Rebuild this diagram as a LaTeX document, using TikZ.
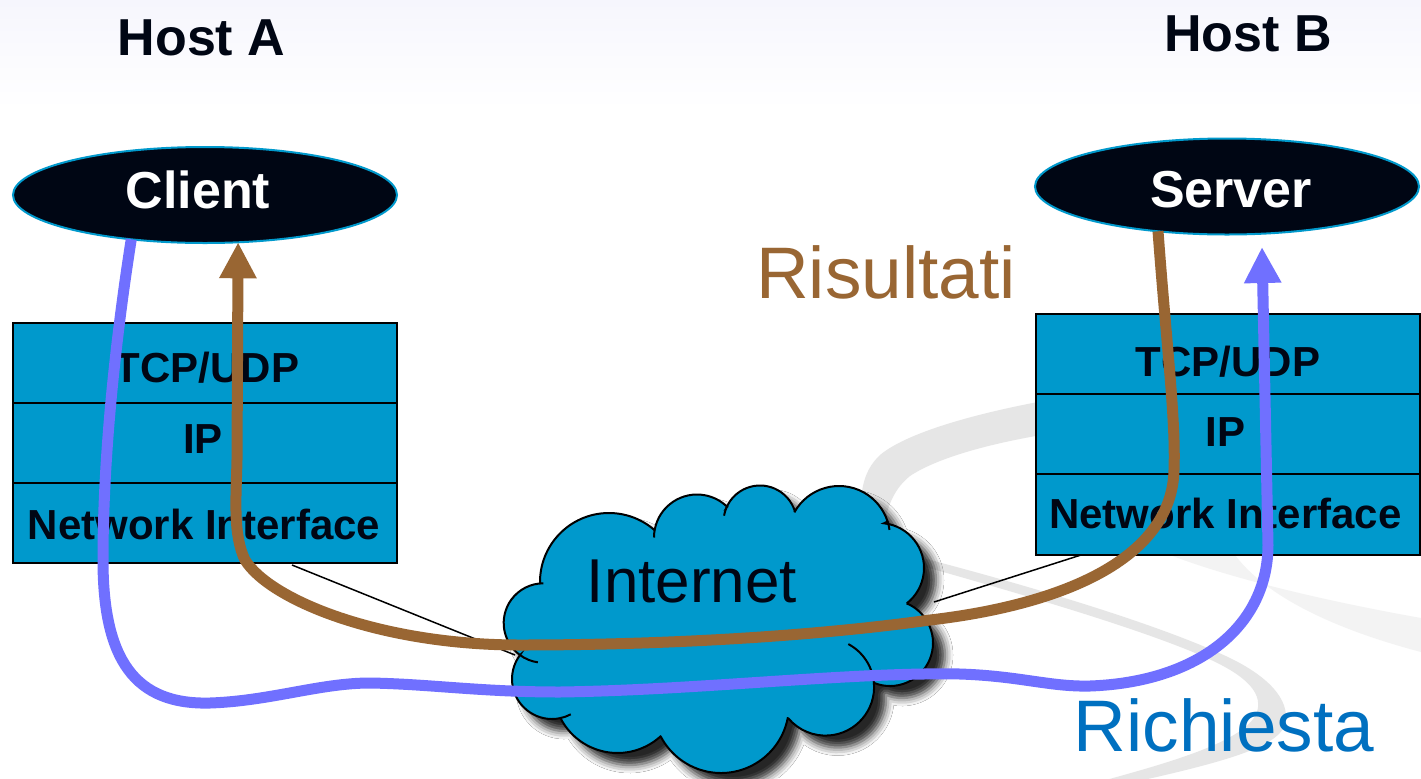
\documentclass[tikz,border=0pt]{standalone}
\usepackage{fontspec}
\setmainfont{Liberation Sans}
\usetikzlibrary{shapes.geometric,arrows.meta,shadows.blur,calc}
\definecolor{boxblue}{RGB}{0,153,204}
\definecolor{navy}{RGB}{0,6,20}
\definecolor{brownpath}{RGB}{153,102,51}
\definecolor{bluepath}{RGB}{112,112,255}
\definecolor{reqblue}{RGB}{0,112,192}
\definecolor{swoosh}{RGB}{230,230,230}
\definecolor{swooshlight}{RGB}{243,243,243}
\definecolor{topbg}{RGB}{246,246,253}
\def\cloudpath{($(609,582)+(178.9:69)$) arc[start angle=178.9,end angle=311.1,radius=69]
 -- ($(697,537.5)+(191:43)$) arc[start angle=191,end angle=314.5,radius=43]
 -- ($(760,522)+(203.8:36.5)$) arc[start angle=203.8,end angle=342.8,radius=36.5]
 -- ($(839,537)+(209:51)$) arc[start angle=209,end angle=342.4,radius=51]
 -- ($(879,568)+(276.3:45)$) arc[start angle=276.3,end angle=411.9,radius=45]
 -- ($(890,643)+(292.8:43)$) arc[start angle=292.8,end angle=471.7,radius=43]
 -- ($(825.5,687)+(355.6:48.6)$) arc[start angle=355.6,end angle=499.9,radius=48.6]
 -- ($(721,705)+(11.2:68)$) arc[start angle=11.2,end angle=152.3,radius=68]
 -- ($(617.5,689)+(47.8:64)$) arc[start angle=47.8,end angle=153,radius=64]
 -- ($(552,679)+(78.5:40)$) arc[start angle=78.5,end angle=216.9,radius=40]
 -- ($(543.4,623)+(126.2:39.7)$) arc[start angle=126.2,end angle=269.9,radius=39.7]
 -- cycle}
\begin{document}
\begin{tikzpicture}[x=0.5pt,y=-0.5pt,
  layerbox/.style={draw=black,line width=1pt,fill=boxblue,minimum width=192pt,minimum height=40pt,inner sep=0pt,outer sep=0pt},
  proc/.style={ellipse,draw=boxblue,line width=1pt,fill=navy,minimum width=192pt,minimum height=48pt,inner sep=0pt,outer sep=0pt},
  hosttxt/.style={anchor=base,font=\fontsize{26}{30}\selectfont\bfseries,text=navy},
  proctxt/.style={anchor=base,font=\fontsize{26}{30}\selectfont\bfseries,text=white},
  layertxt/.style={anchor=base,font=\fontsize{21}{25}\selectfont\bfseries,text=navy},
  bigtxt/.style={anchor=base,font=\fontsize{36.5}{40}\selectfont},
  flow/.style={line width=5.5pt,-{Triangle[length=18pt,width=17.5pt]}},
  wire/.style={draw=black,line width=0.75pt},
  cloudline/.style={draw=black,line width=1pt}
]
\useasboundingbox (0,0) rectangle (1421,778);
\fill[white] (0,0) rectangle (1421,778);
\shade[top color=topbg, bottom color=white] (0,0) rectangle (1421,110);

% background swoosh
\fill[swoosh] (1060,398) .. controls (990,410) and (910,430) .. (880,455)
  .. controls (862,472) and (858,495) .. (862,540) -- (882,540)
  .. controls (885,515) and (890,492) .. (910,476)
  .. controls (940,456) and (1000,441) .. (1060,432) -- cycle;
\fill[swoosh] (915,556) .. controls (1000,578) and (1150,620) .. (1230,658)
  .. controls (1275,680) and (1292,705) .. (1284,727)
  .. controls (1272,752) and (1200,768) .. (1075,795) -- (1050,795)
  .. controls (1150,768) and (1245,745) .. (1257,712)
  .. controls (1264,690) and (1240,672) .. (1200,655)
  .. controls (1130,625) and (1000,588) .. (915,564) -- cycle;
\fill[swooshlight] (1170,555) .. controls (1230,578) and (1320,600) .. (1421,618)
  -- (1421,652) .. controls (1330,628) and (1265,595) .. (1235,555) -- cycle;

% protocol stacks
\node[layerbox] (tcpA) at (205,363) {};
\node[layerbox] (ipA) at (205,443) {};
\node[layerbox] (niA) at (205,523) {};
\node[layerbox] (tcpB) at (1228,354) {};
\node[layerbox] (ipB) at (1228,434) {};
\node[layerbox,minimum height=40.5pt] (niB) at (1228,514.5) {};

% wires to the cloud
\coordinate (wA) at (292,565);
\coordinate (wAc) at (515,655);
\coordinate (wB) at (1081,555);
\coordinate (wBc) at (934,602);
\draw[wire] (wA) -- (wAc);
\draw[wire] (wB) -- (wBc);

% cloud
\fill[boxblue, blur shadow={shadow xshift=6pt, shadow yshift=-6pt, shadow blur radius=4pt, shadow opacity=85}] \cloudpath;
\draw[cloudline] \cloudpath;
\draw[cloudline] ($(543.4,623)+(126.2:39.7)$) arc[start angle=126.2,end angle=98,radius=39.7];
\draw[cloudline] ($(552,679)+(78.5:40)$) arc[start angle=78.5,end angle=62,radius=40];
\draw[cloudline] ($(825.5,687)+(355.6:48.6)$) arc[start angle=355.6,end angle=298,radius=48.6];
\draw[cloudline] ($(760,522)+(203.8:36.5)$) arc[start angle=203.8,end angle=190,radius=36.5];
\draw[cloudline] ($(839,537)+(342.4:51)$) arc[start angle=342.4,end angle=352,radius=51];
\draw[cloudline] ($(697,537.5)+(191:43)$) arc[start angle=191,end angle=180,radius=43];
\node[anchor=base,font=\fontsize{31}{35}\selectfont,text=navy] (inet) at (692,602) {Internet};

% processes
\node[proc] (client) at (205,195) {};
\node[proc] (server) at (1227,186.5) {};

% texts
\node[hosttxt] (hostA) at (201.5,55) {Host A};
\node[hosttxt] (hostB) at (1248,51) {Host B};
\node[proctxt] (clientT) at (198,208) {Client};
\node[proctxt] (serverT) at (1231,207) {Server};
\node[layertxt] at (207,382) {TCP/UDP};
\node[layertxt] at (203,453) {IP};
\node[layertxt] at (204,539) {Network Interface};
\node[layertxt] at (1228,376) {TCP/UDP};
\node[layertxt] at (1225.5,446) {IP};
\node[layertxt] at (1225.5,528) {Network Interface};
\node[bigtxt,text=brownpath] (ris) at (886,298) {Risultati};
\node[bigtxt,text=reqblue] (req) at (1224,751) {Richiesta};

% flows
\coordinate (reqEnd) at (1262,247);
\draw[flow,draw=brownpath] (server.213) .. controls (1166,340) and (1176,420) .. (1174,470)
  .. controls (1172,560) and (1060,605) .. (930,620)
  .. controls (800,638) and (650,645) .. (520,645)
  .. controls (380,645) and (270,600) .. (245,560)
  .. controls (233,535) and (236,500) .. (237,460) -- (client.305);
\draw[flow,draw=bluepath] (client.211) .. controls (117,330) and (103,450) .. (103,560)
  .. controls (103,660) and (135,705) .. (210,703)
  .. controls (270,701) and (320,683) .. (370,683)
  .. controls (430,684) and (480,692) .. (560,692)
  .. controls (700,690) and (850,672) .. (960,674)
  .. controls (1020,676) and (1050,687) .. (1090,686)
  .. controls (1200,682) and (1268,625) .. (1268,545) -- (reqEnd);
\end{tikzpicture}
\end{document}
